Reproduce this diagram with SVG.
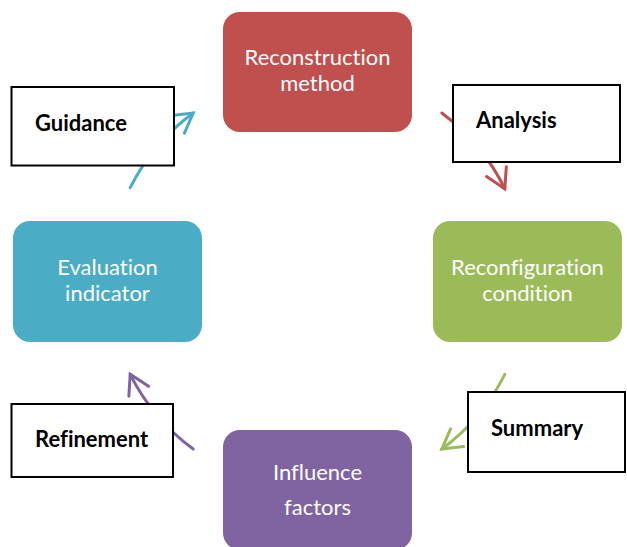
<svg xmlns="http://www.w3.org/2000/svg" width="627" height="547" viewBox="0 0 627 547">
  <defs>
    <style>
      .node-text { font-family: Lato, "Open Sans", "Liberation Sans", sans-serif; font-size: 22px; fill: #ffffff; text-anchor: middle; font-variant-ligatures: none; }
      .label-box { fill: #ffffff; stroke: #000000; stroke-width: 2; }
      .label-text { font-family: Lato, "Liberation Sans", sans-serif; font-size: 22px; font-weight: bold; fill: #000000; font-variant-ligatures: none; }
      .arc { fill: none; stroke-width: 3; stroke-linecap: round; }
      .head { fill: none; stroke-width: 3; stroke-linecap: round; stroke-linejoin: miter; }
    </style>
    <marker id="head-red" markerUnits="userSpaceOnUse" viewBox="-24 -14 28 28" markerWidth="28" markerHeight="28" refX="0" refY="0" orient="auto">
      <path class="head" stroke="#C0504D" d="M-19,-11 L0,0 L-19,11"/>
    </marker>
    <marker id="head-green" markerUnits="userSpaceOnUse" viewBox="-24 -14 28 28" markerWidth="28" markerHeight="28" refX="0" refY="0" orient="auto">
      <path class="head" stroke="#9BBB59" d="M-19,-11 L0,0 L-19,11"/>
    </marker>
    <marker id="head-purple" markerUnits="userSpaceOnUse" viewBox="-24 -14 28 28" markerWidth="28" markerHeight="28" refX="0" refY="0" orient="auto">
      <path class="head" stroke="#8064A2" d="M-19,-11 L0,0 L-19,11"/>
    </marker>
    <marker id="head-teal" markerUnits="userSpaceOnUse" viewBox="-24 -14 28 28" markerWidth="28" markerHeight="28" refX="0" refY="0" orient="auto">
      <path class="head" stroke="#4BACC6" d="M-19,-11 L0,0 L-19,11"/>
    </marker>
  </defs>

  <rect width="627" height="547" fill="#ffffff"/>

  <!-- cycle arcs on a circle centred at (317.5,281), r = 209 -->
  <g id="connectors">
    <path class="arc" stroke="#C0504D" marker-end="url(#head-red)" d="M441.8,113 A209,209 0 0 1 504.8,188.7"/>
    <path class="arc" stroke="#9BBB59" marker-end="url(#head-green)" d="M504.8,374.3 A209,209 0 0 1 441.8,449"/>
    <path class="arc" stroke="#8064A2" marker-end="url(#head-purple)" d="M193.2,449 A209,209 0 0 1 130.2,374.3"/>
    <path class="arc" stroke="#4BACC6" marker-end="url(#head-teal)" d="M130.2,187.7 A209,209 0 0 1 193.2,113"/>
  </g>

  <g id="node-reconstruction">
    <rect x="223" y="12" width="189" height="120" rx="17" fill="#C0504D"/>
    <text class="node-text" x="317.5" y="65">Reconstruction</text>
    <text class="node-text" x="317.5" y="91">method</text>
  </g>

  <g id="node-reconfiguration">
    <rect x="433" y="221" width="189" height="121" rx="17" fill="#9BBB59"/>
    <text class="node-text" x="527.5" y="275">Reconfiguration</text>
    <text class="node-text" x="527.5" y="301">condition</text>
  </g>

  <g id="node-influence">
    <rect x="223" y="430" width="189" height="120" rx="17" fill="#8064A2"/>
    <text class="node-text" x="317.5" y="480">Influence</text>
    <text class="node-text" x="317.5" y="515">factors</text>
  </g>

  <g id="node-evaluation">
    <rect x="13" y="221" width="189" height="121" rx="17" fill="#4BACC6"/>
    <text class="node-text" x="107.5" y="275">Evaluation</text>
    <text class="node-text" x="107.5" y="301">indicator</text>
  </g>

  <g id="label-analysis">
    <rect class="label-box" x="453" y="85" width="167" height="77"/>
    <text class="label-text" x="476" y="128">Analysis</text>
  </g>

  <g id="label-summary">
    <rect class="label-box" x="468" y="392" width="157" height="80"/>
    <text class="label-text" x="491" y="436">Summary</text>
  </g>

  <g id="label-refinement">
    <rect class="label-box" x="11.5" y="404" width="161.5" height="73"/>
    <text class="label-text" x="35" y="447">Refinement</text>
  </g>

  <g id="label-guidance">
    <rect class="label-box" x="11.5" y="87" width="162.5" height="78.5"/>
    <text class="label-text" x="35" y="131">Guidance</text>
  </g>
</svg>
